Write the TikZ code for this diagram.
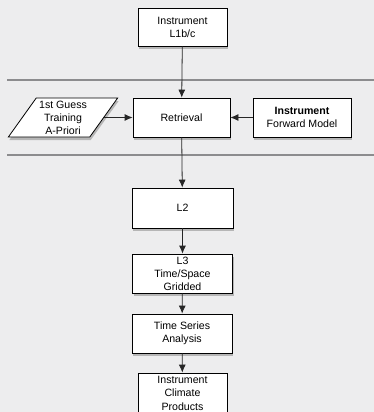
\documentclass[tikz,border=0pt]{standalone}
\usepackage{fontspec}
\setmainfont{Liberation Sans}
\usetikzlibrary{shapes.geometric,shadows,arrows.meta}
\definecolor{bgcol}{RGB}{237,237,238}
\definecolor{sepcol}{RGB}{140,140,142}
\begin{document}
\begin{tikzpicture}[x=1pt,y=-1pt,
    box/.style={draw, fill=white, line width=0.8pt, align=center, inner sep=0pt,
      minimum width=#1, minimum height=39pt, font=\fontsize{10.6}{13}\selectfont,
      drop shadow={shadow xshift=1pt, shadow yshift=-3pt, opacity=0.5}},
    box/.default=100pt,
    flow/.style={draw=black!85, line width=0.8pt, -{Latex[length=8pt,width=7pt]}},
    sep/.style={draw=sepcol, line width=2.8pt}]
      % background
        \fill[bgcol] (0,0) rectangle (374,412);
        \useasboundingbox (0,0) rectangle (374,412);
        \clip (0,0) rectangle (374,412);
      % separators
        \draw[sep] (7,80) -- (374,80);
        \draw[sep] (7,155) -- (374,155);
      % nodes
        \node[box=89pt, minimum height=38pt] (l1b) at (182.5,27) {Instrument\\L1b/c};
        \node[box=97pt] (retr) at (181.5,117.5) {Retrieval};
        \node[box=110pt, shape=trapezium, trapezium left angle=53.4,
          trapezium right angle=126.6, trapezium stretches=true] (guess) at (63,117.5)
          {1st Guess\\Training\\A-Priori};
        \node[box=98pt] (fwd) at (302,117.5) {\textbf{Instrument}\\Forward Model};
        \node[box=101pt, minimum height=40pt] (l2) at (182.5,208) {L2};
        \node[box] (l3) at (182.5,273.5) {L3\\Time/Space\\Gridded};
        \node[box] (tser) at (182,333.5) {Time Series\\Analysis};
        \node[box=89pt, minimum height=40pt, font=\fontsize{10.6}{13.5}\selectfont]
          (clim) at (182.5,393) {Instrument\\Climate\\Products};
      % edges
        \draw[flow] (l1b) -- (retr);
        \draw[flow] (guess.east) -- (retr.west);
        \draw[flow] (fwd) -- (retr);
        \draw[flow] (retr) -- (l2);
        \draw[flow] (l2) -- (l3);
        \draw[flow] (l3) -- (tser);
        \draw[flow] (tser) -- (clim);
      \end{tikzpicture}
\end{document}
